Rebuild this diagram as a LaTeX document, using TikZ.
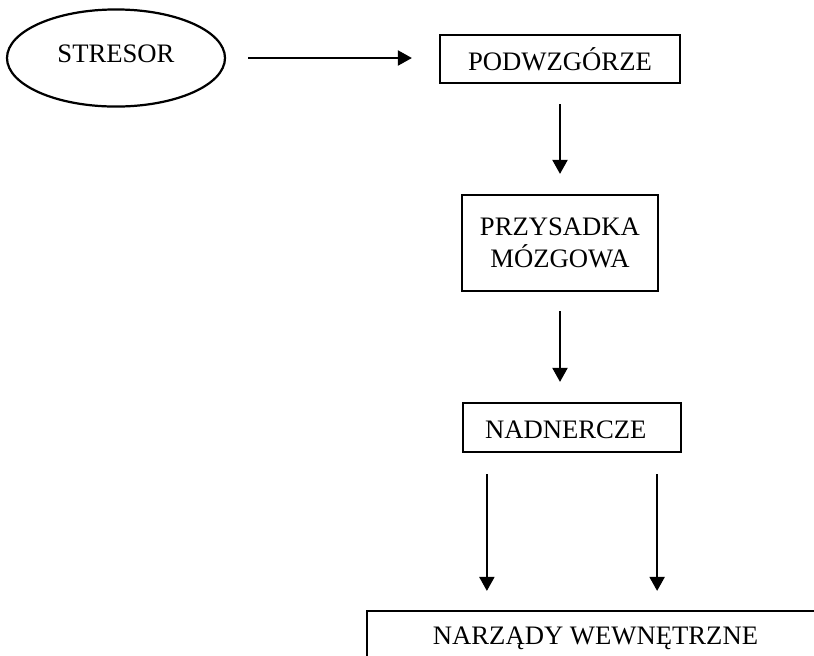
\documentclass[tikz,border=0pt]{standalone}
\usepackage{fontspec}
\setmainfont{Liberation Serif}
\usepackage{tikz}
\usetikzlibrary{shapes,arrows.meta}

\begin{document}
\begin{tikzpicture}
		[
		x = 0.45pt, y = -0.45pt,
		every node/.style = {font = \fontsize{12}{14.4}\selectfont},
		box/.style = {draw, line width = 1pt, inner sep = 0pt},
		oval/.style = {ellipse, draw, line width = 1pt, inner sep = 0pt},
		arr/.style = {-{Triangle[length = 6.3pt, width = 6.8pt]}, line width = 0.8pt}
		]
		
		\useasboundingbox (0,0) rectangle (814,655);
		\clip (0,0) rectangle (814,655);
		
		\node [oval, minimum width = 98.1pt, minimum height = 43.7pt, text depth = 3.6pt] (stresor) at (116,58) {STRESOR};
		\node [box, minimum width = 108pt, minimum height = 21.6pt, text height = 10.5pt] (podw) at (560,59) {PODWZGÓRZE};
		\node [box, minimum width = 88.2pt, minimum height = 43.2pt, align = center] (przy) at (560,243) {PRZYSADKA\\MÓZGOWA};
		\node [box, minimum width = 98.1pt, minimum height = 22.05pt, inner xsep = 9.9pt, text width = 78.3pt, align = left, text height = 10pt] (nadn) at (572,427.5) {NADNERCZE};
		\node [box, minimum width = 205.65pt, minimum height = 24.3pt] (narz) at (595.5,638) {NARZĄDY WEWNĘTRZNE};
		
		\coordinate (lewa) at ([xshift = 11.25pt]nadn.south west);
		\coordinate (prawa) at ([xshift = -11.25pt]nadn.south east);
		
		\draw [arr, shorten <= 9.9pt, shorten >= 12.15pt] (stresor.east) -- (stresor.east -| podw.west);
		\draw [arr, shorten <= 9pt, shorten >= 9pt] (podw.south) -- (przy.north);
		\draw [arr, shorten <= 8.55pt, shorten >= 9pt] (przy.south) -- (przy.south |- nadn.north);
		\draw [arr, shorten <= 9.45pt, shorten >= 8.55pt] (lewa) -- (lewa |- narz.north);
		\draw [arr, shorten <= 9.45pt, shorten >= 8.55pt] (prawa) -- (prawa |- narz.north);
		
		\end{tikzpicture}
\end{document}
